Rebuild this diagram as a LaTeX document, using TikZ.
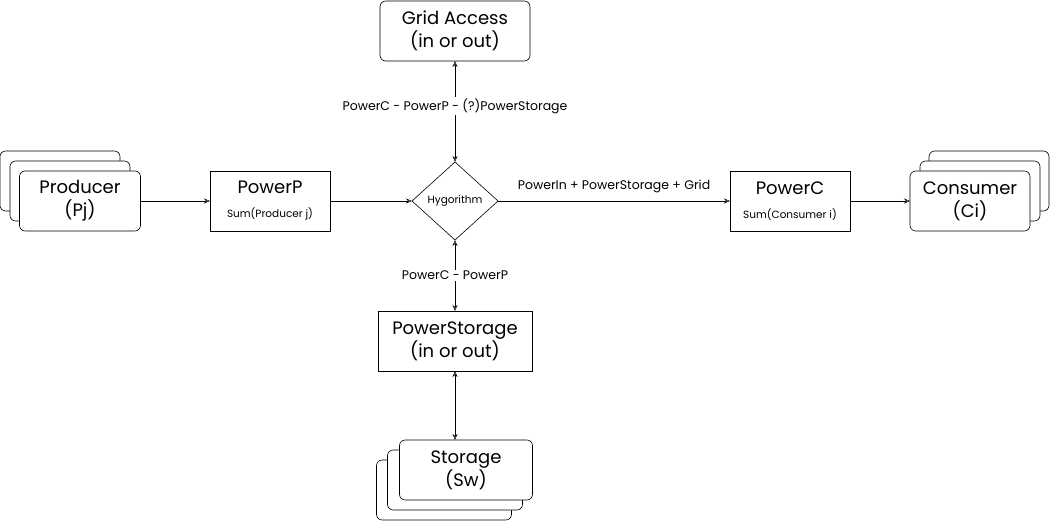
\documentclass[tikz,border=0pt]{standalone}
\usepackage{fontspec}
\setmainfont{Poppins}
\usetikzlibrary{arrows.meta,shapes.geometric}
\newcommand{\bigtxt}{\fontsize{18}{23}\selectfont}
\newcommand{\smalltxt}{\fontsize{10.5}{12}\selectfont}
\newcommand{\labtxt}{\fontsize{12.5}{14}\selectfont}

\begin{document}
\begin{tikzpicture}[x=1pt,y=-1pt,>={Stealth[open,length=6pt,width=5pt]},semithick,
		card/.style={draw,fill=white,rounded corners=2mm,minimum width=120pt,minimum height=60pt,inner sep=0pt,outer sep=0,align=center,font=\bigtxt},
		block/.style={draw,fill=white,minimum width=120pt,minimum height=60pt,inner sep=0pt,outer sep=0,align=center,font=\bigtxt},
		lab/.style={font=\labtxt,fill=white,inner sep=1.5pt}]
	\useasboundingbox (0,0) rectangle (1051,521);
	
	% producers
	\node[card] (prod3) at (60,181) {};
	\node[card] (prod2) at (70,191) {};
	\node[card, minimum width=121pt] (prod) at (80,201) {Producer\\(Pj)};
	
	% consumers
	\node[card] (cons3) at (989,181) {};
	\node[card] (cons2) at (980,191) {};
	\node[card] (cons) at (970,201) {Consumer\\(Ci)};
	
	\node[block] (powp) at (270,201) {PowerP\\[1pt]{\smalltxt Sum(Producer j)}};
	\node[block] (powc) at (790,201) {PowerC\\[1pt]{\smalltxt Sum(Consumer i)}};
	\node[draw, diamond, minimum width=86pt, minimum height=78pt, inner sep=0pt, outer sep=0, font=\smalltxt] (hyg) at (455,201) {Hygorithm};
	
	\node[card, minimum width=150pt] (grid) at (455,31) {Grid Access\\(in or out)};
	\node[block, minimum width=154pt] (pstor) at (455,341) {PowerStorage\\(in or out)};
	
	% storages
	\node[card, minimum width=135pt] (stor3) at (444,490) {};
	\node[card, minimum width=135pt] (stor2) at (455,480) {};
	\node[card, minimum width=133pt] (stor) at (466,470) {Storage\\(Sw)};
	
	\draw[->] (prod) -- (powp);
	\draw[->] (powp) -- (hyg);
	\draw[->] (hyg) -- node[above, yshift=4pt, font=\labtxt] {PowerIn + PowerStorage + Grid} (powc);
	\draw[->] (powc) -- (cons);
	\draw[<->] (hyg.north) -- node[lab, pos=0.55] {PowerC - PowerP - (?)PowerStorage} (grid.south);
	\draw[<->] (hyg.south) -- node[lab] {PowerC - PowerP} (pstor.north);
	\draw[<->] (pstor.south) -- (stor.north -| pstor.south);
\end{tikzpicture}
\end{document}
